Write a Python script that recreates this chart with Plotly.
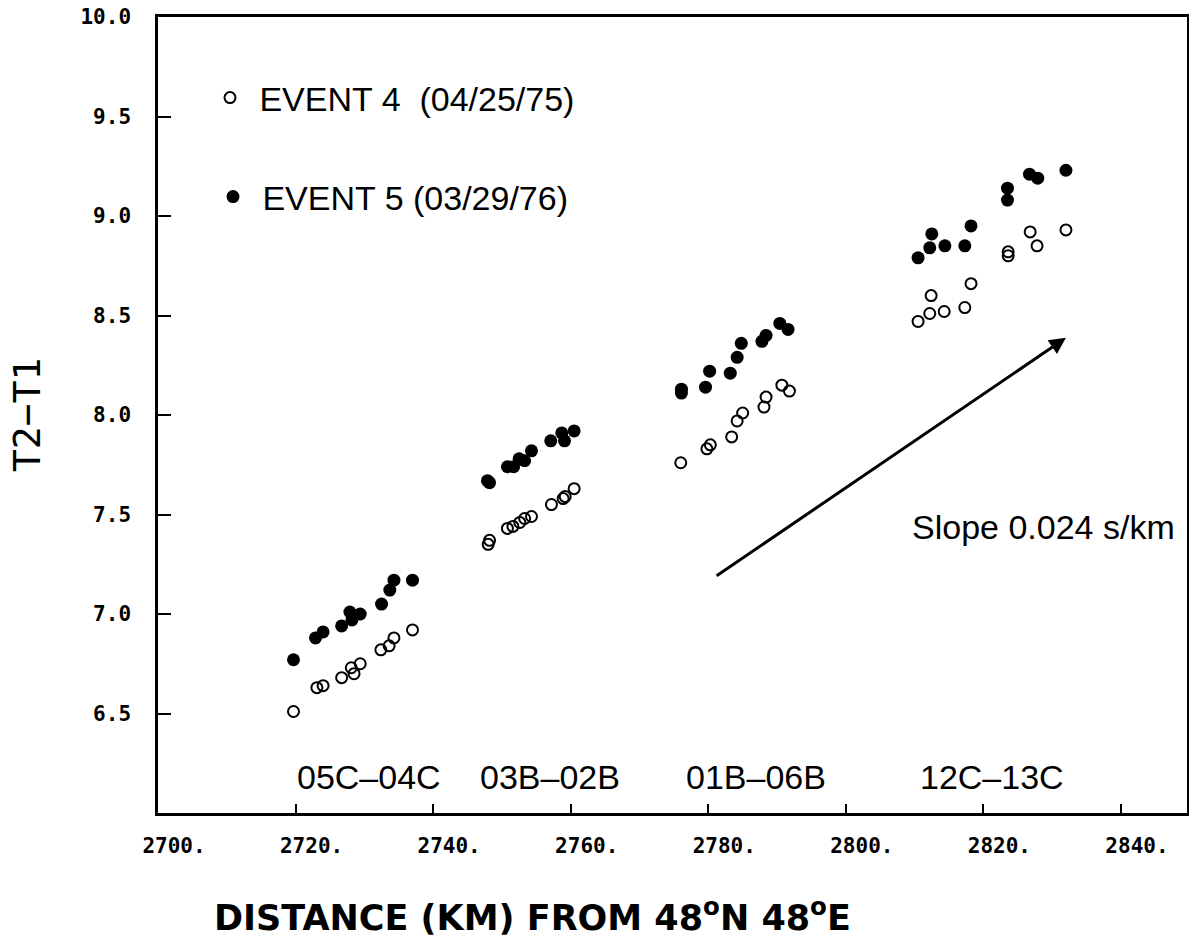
import plotly.graph_objects as go

# ---- data ----
event4_x = [2719.7, 2723.1, 2724.0, 2726.7, 2728.1, 2728.5, 2729.4, 2732.4, 2733.6, 2734.3, 2737.0,
            2748.0, 2748.2, 2750.8, 2751.6, 2752.6, 2753.3, 2754.3, 2757.2, 2758.9, 2759.2, 2760.5,
            2776.0, 2779.8, 2780.3, 2783.4, 2784.2, 2785.0, 2788.1, 2788.4, 2790.7, 2791.8,
            2810.5, 2812.2, 2812.4, 2814.3, 2817.3, 2818.2, 2823.6, 2823.6, 2826.8, 2827.8, 2832.0]
event4_y = [6.51, 6.63, 6.64, 6.68, 6.73, 6.70, 6.75, 6.82, 6.84, 6.88, 6.92,
            7.35, 7.37, 7.43, 7.44, 7.46, 7.48, 7.49, 7.55, 7.58, 7.59, 7.63,
            7.76, 7.83, 7.85, 7.89, 7.97, 8.01, 8.04, 8.09, 8.15, 8.12,
            8.47, 8.51, 8.60, 8.52, 8.54, 8.66, 8.80, 8.82, 8.92, 8.85, 8.93]

event5_x = [2719.7, 2722.9, 2724.0, 2726.7, 2727.9, 2728.2, 2729.4, 2732.5, 2733.7, 2734.3, 2737.0,
            2747.9, 2748.2, 2750.8, 2751.7, 2752.5, 2753.3, 2754.3, 2757.1, 2758.7, 2759.1, 2760.5,
            2776.1, 2776.1, 2779.6, 2780.2, 2783.2, 2784.2, 2784.8, 2787.8, 2788.4, 2790.4, 2791.6,
            2810.5, 2812.2, 2812.5, 2814.4, 2817.3, 2818.2, 2823.5, 2823.5, 2826.7, 2827.9, 2832.0]
event5_y = [6.77, 6.88, 6.91, 6.94, 7.01, 6.97, 7.00, 7.05, 7.12, 7.17, 7.17,
            7.67, 7.66, 7.74, 7.74, 7.78, 7.77, 7.82, 7.87, 7.91, 7.87, 7.92,
            8.11, 8.13, 8.14, 8.22, 8.21, 8.29, 8.36, 8.37, 8.40, 8.46, 8.43,
            8.79, 8.84, 8.91, 8.85, 8.85, 8.95, 9.08, 9.14, 9.21, 9.19, 9.23]

event4_name = "\u00a0EVENT 4\u00a0\u00a0(04/25/75)"
event5_name = "\u00a0EVENT 5 (03/29/76)"

group_labels = ["05C\u201304C", "03B\u201302B", "01B\u201306B", "12C\u201313C"]
group_label_x = [2730.7, 2757.0, 2786.9, 2821.2]
group_label_y = 6.18

x_tickvals = [2700, 2720, 2740, 2760, 2780, 2800, 2820, 2840]
x_ticktext = ["2700.", "2720.", "2740.", "2760.", "2780.", "2800.", "2820.", "2840."]
y_tickvals = [6.5, 7.0, 7.5, 8.0, 8.5, 9.0, 9.5, 10.0]
y_ticktext = ["6.5", "7.0", "7.5", "8.0", "8.5", "9.0", "9.5", "10.0"]

slope_arrow_start = (2781.0, 7.187)
slope_arrow_end = (2832.0, 8.388)
slope_text = "Slope 0.024 s/km"
slope_text_pos = (2809.3, 7.437)

x_title = "DISTANCE (KM) FROM 48<sup>o</sup>N 48<sup>o</sup>E"
y_title = "T2\u2212T1"

x_range = [2700, 2849.6]
y_range = [6.0, 10.0]

# ---- figure ----
W, H = 1189, 951

fig = go.Figure()
fig.add_trace(go.Scatter(
    x=event4_x, y=event4_y, mode="markers", name=event4_name, legend="legend",
    marker=dict(symbol="circle-open", size=11, color="black", line=dict(width=2, color="black")),
))
fig.add_trace(go.Scatter(
    x=event5_x, y=event5_y, mode="markers", name=event5_name, legend="legend2",
    marker=dict(symbol="circle", size=13, color="black"),
))

tick_font = dict(family="DejaVu Sans Mono", size=21, color="black", weight="bold")
text_font = dict(family="Liberation Sans", size=34, color="black")

fig.update_layout(
    width=W, height=H,
    margin=dict(l=158, r=2, t=17, b=138, autoexpand=False),
    paper_bgcolor="white", plot_bgcolor="white",
    showlegend=True,
    legend=dict(x=(230 - 20) / W, y=1 - 98 / H, xref="container", yref="container",
                xanchor="left", yanchor="middle", font=text_font,
                bgcolor="rgba(0,0,0,0)", borderwidth=0),
    legend2=dict(x=(233 - 20) / W, y=1 - 197 / H, xref="container", yref="container",
                 xanchor="left", yanchor="middle", font=text_font,
                 bgcolor="rgba(0,0,0,0)", borderwidth=0),
    xaxis=dict(
        range=x_range, tickmode="array", tickvals=x_tickvals, ticktext=x_ticktext,
        ticks="inside", ticklen=9, tickwidth=2, tickcolor="black",
        showline=True, linewidth=2.5, linecolor="black", mirror=True,
        showgrid=False, zeroline=False, tickfont=tick_font,
        ticklabelshift=16, ticklabelstandoff=12, ticklabeloverflow="allow",
    ),
    yaxis=dict(
        range=y_range, tickmode="array", tickvals=y_tickvals, ticktext=y_ticktext,
        ticks="inside", ticklen=13, tickwidth=2, tickcolor="black",
        showline=True, linewidth=2.5, linecolor="black", mirror=True,
        showgrid=False, zeroline=False, tickfont=tick_font,
        ticklabelstandoff=20, ticklabeloverflow="allow",
    ),
)

for lbl, gx in zip(group_labels, group_label_x):
    fig.add_annotation(x=gx, y=group_label_y, xref="x", yref="y", text=lbl,
                       showarrow=False, font=text_font, xanchor="center", yanchor="middle")

fig.add_annotation(
    x=slope_arrow_end[0], y=slope_arrow_end[1], ax=slope_arrow_start[0], ay=slope_arrow_start[1],
    xref="x", yref="y", axref="x", ayref="y", text="", showarrow=True,
    arrowhead=2, arrowsize=1.1, arrowwidth=3, arrowcolor="black",
)
fig.add_annotation(x=slope_text_pos[0], y=slope_text_pos[1], xref="x", yref="y", text=slope_text,
                   showarrow=False, font=text_font, xanchor="left", yanchor="middle")

# axis titles
fig.add_annotation(
    x=0.364, y=-0.128, xref="paper", yref="paper", text=x_title,
    showarrow=False, xanchor="center", yanchor="middle",
    font=dict(family="DejaVu Sans", size=35, color="black", weight="bold"),
)
fig.add_annotation(
    x=-0.1273, y=0.5, xref="paper", yref="paper", text=y_title, textangle=-90,
    showarrow=False, xanchor="center", yanchor="middle", borderpad=0,
    font=dict(family="DejaVu Sans Mono", size=38, color="black"),
)

# remove the default page margin so the figure sits at the window's top-left corner
fig.write_html("out.html", config={"displayModeBar": False},
               post_script="document.body.style.margin='0';")
